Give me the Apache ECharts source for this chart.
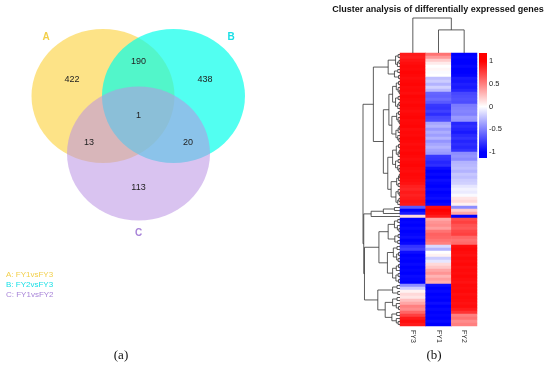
<!DOCTYPE html>
<html><head><meta charset="utf-8">
<script src="https://cdn.jsdelivr.net/npm/echarts@6/dist/echarts.min.js"></script>
<style>html,body{margin:0;padding:0;background:#fff}#c{width:550px;height:368px}</style>
</head><body><div id="c"></div>
<script>
// ---------------- DATA ----------------
const vennSets = ['A', 'B', 'C'];
const vennSetNames = ['FY1vsFY3', 'FY2vsFY3', 'FY1vsFY2'];
const vennRegions = ['A', 'AB', 'B', 'ABC', 'AC', 'BC', 'C'];
const vennCounts = [422, 190, 438, 1, 13, 20, 113];

const heatCols = ['FY3', 'FY1', 'FY2'];
// 91 gene rows, top to bottom (scaled expression)
const fy3 = [
  0.9, 0.88, 0.92, 0.95, 0.97, 0.96, 0.98, 0.97, 0.95, 0.97,
  0.98, 0.96, 0.97, 0.95, 0.98, 0.97, 0.96, 0.98, 0.97, 0.95,
  0.97, 0.98, 0.96, 0.97, 0.98, 0.95, 0.97, 0.96, 0.98, 0.97,
  0.95, 0.97, 0.96, 0.98, 0.97, 0.95, 0.97, 0.98, 0.96, 0.95,
  0.97, 0.96, 0.95, 0.93, 0.88, 0.85, 0.9, 0.87, 0.9, 0.92,
  0.9, -0.65, -1, -0.9, 0.15, -1, -0.98, -1, -0.97, -1,
  -0.98, -0.95, -1, -0.97, -0.8, -0.75, -0.95, -1, -0.98, -1,
  -0.97, -1, -0.98, -1, -0.96, -0.98, -1, -0.45, -0.2, 0.05,
  0.15, 0.1, 0.25, 0.35, 0.5, 0.45, 0.6, 0.75, 0.9, 0.95,
  0.9
];
const fy1 = [
  0.55, 0.4, 0.2, 0.08, 0.0, 0.03, -0.02, 0.0, -0.25, -0.2,
  -0.3, -0.18, -0.28, -0.6, -0.62, -0.58, -0.65, -0.78, -0.8, -0.75,
  -0.82, -0.72, -0.7, -0.35, -0.3, -0.4, -0.32, -0.38, -0.3, -0.42,
  -0.35, -0.3, -0.36, -0.4, -0.78, -0.8, -0.85, -0.82, -0.95, -1,
  -0.97, -1, -0.95, -0.98, -1, -0.96, -1, -0.98, -0.95, -1,
  -0.97, 0.95, 1, 0.97, 0.9, 0.35, 0.42, 0.45, 0.38, 0.55,
  0.62, 0.6, 0.55, 0.5, -0.15, -0.3, 0.0, 0.05, -0.2, -0.1,
  0.15, 0.22, 0.35, 0.42, 0.3, 0.38, 0.32, -0.95, -1, -0.97,
  -1, -0.98, -1, -0.95, -1, -0.97, -1, -0.98, -1, -0.96,
  -1
];
const fy2 = [
  -1, -0.98, -1, -1, -0.97, -1, -1, -0.98, -0.9, -0.92,
  -0.88, -0.9, -0.85, -0.72, -0.7, -0.68, -0.7, -0.52, -0.5, -0.48,
  -0.5, -0.4, -0.42, -0.85, -0.82, -0.86, -0.9, -0.84, -0.8, -0.86,
  -0.82, -0.85, -0.8, -0.45, -0.42, -0.46, -0.3, -0.28, -0.25, -0.3,
  -0.22, -0.25, -0.2, -0.18, -0.1, -0.05, -0.08, -0.02, 0.1, 0.15,
  0.05, -0.45, 0.2, 0.35, -1, 0.7, 0.75, 0.68, 0.65, 0.72,
  0.75, 0.6, 0.55, 0.58, 0.95, 0.97, 0.95, 0.93, 0.96, 0.95,
  0.97, 0.94, 0.96, 0.95, 0.97, 0.95, 0.93, 0.96, 0.95, 0.97,
  0.94, 0.96, 0.95, 0.93, 0.95, 0.9, 0.8, 0.5, 0.55, 0.45,
  0.5
];
// dendrograms: [height, left, right], leaves are indices
const colTree = [1.0, 0, [0.66, 1, 2]];
const rowTree = [1.0,
  [0.72,
    [0.32, [0.12, [0.05, 0, 1], [0.07, [0.03, 2, 3], 4]], [0.15, [0.06, 5, 6], [0.04, 7, 8]]],
    [0.45,
      [0.3,
        [0.2, [0.1, [0.04, 9, 10], [0.05, 11, [0.02, 12, 13]]], [0.12, [0.05, 14, 15], [0.06, [0.03, 16, 17], 18]]],
        [0.22, [0.09, [0.04, 19, 20], [0.05, 21, [0.02, 22, 23]]], [0.11, [0.05, [0.02, 24, 25], 26], [0.06, 27, [0.03, 28, 29]]]]],
      [0.33,
        [0.2, [0.1, [0.04, 30, 31], [0.05, [0.02, 32, 33], 34]], [0.12, [0.05, 35, 36], [0.06, 37, [0.03, 38, 39]]]],
        [0.24, [0.09, [0.04, [0.02, 40, 41], 42], [0.05, 43, 44]], [0.11, [0.05, 45, [0.02, 46, 47]], [0.06, [0.03, 48, 49], 50]]]]]],
  [0.98,
    [0.78, [0.45, [0.15, 51, 52], 53], 54],
    [0.96,
      [0.57,
        [0.32, [0.15, [0.06, 55, 56], [0.07, 57, [0.03, 58, 59]]], [0.14, [0.05, 60, 61], [0.06, 62, 63]]],
        [0.34, [0.18, [0.08, 64, 65], [0.09, [0.04, 66, 67], [0.05, 68, 69]]], [0.2, [0.1, [0.04, 70, 71], 72], [0.11, [0.05, 73, 74], [0.04, 75, 76]]]]],
      [0.6,
        [0.2, [0.08, 77, 78], [0.06, 79, 80]],
        [0.4, [0.2, [0.08, 81, 82], [0.1, 83, [0.04, 84, 85]]], [0.22, [0.09, 86, 87], [0.1, 88, [0.05, 89, 90]]]]]]]
];
const colorbarTicks = [-1, -0.5, 0, 0.5, 1];
const colorbarRange = [-1.13, 1.18];

// ---------------- LAYOUT / STYLE ----------------
const vennColors = ['rgba(251,208,55,0.6)', 'rgba(0,255,235,0.68)', 'rgba(185,145,228,0.55)'];
const vennTextColors = ['#f2cf4a', '#19dfe6', '#a884d8'];
const vennCircleLayout = [[103, 96], [173.5, 96], [138.5, 153.5]];
const vennRadius = [71.5, 67];
const vennRegionLayout = [[72, 80], [138.5, 62], [205, 80], [138.5, 116], [89, 143], [188, 143], [138.5, 188]];
const vennSetLabelLayout = [[46, 37], [231, 37], [138.5, 233]];

const nRows = fy3.length;
const rowIds = fy3.map((_, i) => String(i));
const heatData = [];
[fy3, fy1, fy2].forEach((col, c) => col.forEach((v, r) => heatData.push([c, r, v])));

function treeLinks(node, out) {
  if (typeof node === 'number') return { h: 0, p: node };
  const a = treeLinks(node[1], out), b = treeLinks(node[2], out);
  out.push([node[0], a.p, a.h, b.p, b.h]);
  return { h: node[0], p: (a.p + b.p) / 2 };
}
const rowLinks = []; treeLinks(rowTree, rowLinks);
const colLinks = []; treeLinks(colTree, colLinks);

const lineStyle = { stroke: '#333', lineWidth: 0.8, fill: null };
const chart = echarts.init(document.getElementById('c'), null, { renderer: 'canvas' });

const graphics = [];
vennSets.forEach((s, i) => {
  graphics.push({ type: 'text', left: 6, top: 271 + i * 9.8,
    style: { text: s + ': ' + vennSetNames[i], fill: vennTextColors[i], font: '8px "Liberation Sans", Arial, sans-serif' } });
});
graphics.push({ type: 'text', x: 121, y: 356, style: { text: '(a)', fill: '#111', font: '13px "Liberation Serif", "Times New Roman", serif', align: 'center', verticalAlign: 'middle' } });
graphics.push({ type: 'text', x: 434, y: 356, style: { text: '(b)', fill: '#111', font: '13px "Liberation Serif", "Times New Roman", serif', align: 'center', verticalAlign: 'middle' } });
graphics.push({ type: 'text', x: 438, y: 10, style: { text: 'Cluster analysis of differentially expressed genes', fill: '#111', font: 'bold 9px "Liberation Sans", Arial, sans-serif', align: 'center', verticalAlign: 'middle' } });

const hidden = { show: false };
const option = {
  animation: false,
  backgroundColor: '#fff',
  graphic: graphics,
  grid: [
    { left: 0, top: 0, width: 275, height: 275 },
    { left: 400, top: 53, width: 77, height: 273 },
    { left: 363, top: 53, width: 37, height: 273 },
    { left: 400, top: 18, width: 77, height: 35 },
    { left: 479, top: 53, width: 8, height: 105 }
  ],
  xAxis: [
    { gridIndex: 0, type: 'value', min: 0, max: 275, ...hidden },
    { gridIndex: 1, type: 'category', data: heatCols, position: 'bottom',
      axisLine: { show: false }, axisTick: { show: false },
      axisLabel: { rotate: -90, fontSize: 7, color: '#333', margin: 4, fontFamily: 'Liberation Sans, Arial, sans-serif' } },
    { gridIndex: 2, type: 'value', min: 0, max: 1, inverse: true, ...hidden },
    { gridIndex: 3, type: 'value', min: -0.5, max: 2.5, ...hidden },
    { gridIndex: 4, type: 'value', min: 0, max: 1, ...hidden }
  ],
  yAxis: [
    { gridIndex: 0, type: 'value', min: 0, max: 275, inverse: true, ...hidden },
    { gridIndex: 1, type: 'category', data: rowIds, inverse: true, ...hidden },
    { gridIndex: 2, type: 'value', min: -0.5, max: nRows - 0.5, inverse: true, ...hidden },
    { gridIndex: 3, type: 'value', min: 0, max: 1, ...hidden },
    { gridIndex: 4, type: 'value', min: colorbarRange[0], max: colorbarRange[1], position: 'right',
      axisLine: { show: false }, axisTick: { show: false }, splitLine: { show: false },
      axisLabel: { customValues: colorbarTicks, fontSize: 7.5, color: '#222', margin: 2, fontFamily: 'Liberation Sans, Arial, sans-serif' } }
  ],
  visualMap: {
    show: false, type: 'continuous', min: -1, max: 1, seriesIndex: 2,
    inRange: { color: ['#0000FF', '#FFFFFF', '#FF0000'] }
  },
  series: [
    { // venn circles
      type: 'custom', xAxisIndex: 0, yAxisIndex: 0, silent: true, clip: false,
      data: vennSets.map((s, i) => [vennCircleLayout[i][0], vennCircleLayout[i][1], i]),
      renderItem(params, api) {
        const c = api.coord([api.value(0), api.value(1)]);
        const sz = api.size([vennRadius[0], vennRadius[1]]);
        const i = api.value(2);
        return { type: 'circle', x: c[0], y: c[1], scaleY: sz[1] / sz[0],
          shape: { cx: 0, cy: 0, r: sz[0] }, style: { fill: vennColors[i] } };
      }
    },
    { // venn counts and set labels
      type: 'custom', xAxisIndex: 0, yAxisIndex: 0, silent: true, clip: false,
      data: vennCounts.map((v, i) => [vennRegionLayout[i][0], vennRegionLayout[i][1], v]),
      renderItem(params, api) {
        const c = api.coord([api.value(0), api.value(1)]);
        const children = [{ type: 'text', x: c[0], y: c[1], style: { text: String(api.value(2)), fill: '#222',
          font: '9px "Liberation Sans", Arial, sans-serif', align: 'center', verticalAlign: 'middle' } }];
        if (params.dataIndex === 0) {
          vennSets.forEach((s, k) => {
            const p = api.coord(vennSetLabelLayout[k]);
            children.push({ type: 'text', x: p[0], y: p[1], style: { text: s, fill: vennTextColors[k],
              font: 'bold 10px "Liberation Sans", Arial, sans-serif', align: 'center', verticalAlign: 'middle' } });
          });
        }
        return { type: 'group', children };
      }
    },
    { // heatmap
      type: 'heatmap', xAxisIndex: 1, yAxisIndex: 1, data: heatData, silent: true,
      itemStyle: { borderWidth: 0 }, emphasis: { disabled: true }, progressive: 0
    },
    { // row dendrogram
      type: 'custom', xAxisIndex: 2, yAxisIndex: 2, silent: true, clip: false, data: rowLinks,
      renderItem(params, api) {
        const h = api.value(0), y1 = api.value(1), h1 = api.value(2), y2 = api.value(3), h2 = api.value(4);
        const pts = [api.coord([h1, y1]), api.coord([h, y1]), api.coord([h, y2]), api.coord([h2, y2])];
        return { type: 'polyline', shape: { points: pts }, style: lineStyle };
      }
    },
    { // column dendrogram
      type: 'custom', xAxisIndex: 3, yAxisIndex: 3, silent: true, clip: false, data: colLinks,
      renderItem(params, api) {
        const h = api.value(0), x1 = api.value(1), h1 = api.value(2), x2 = api.value(3), h2 = api.value(4);
        const pts = [api.coord([x1, h1]), api.coord([x1, h]), api.coord([x2, h]), api.coord([x2, h2])];
        return { type: 'polyline', shape: { points: pts }, style: lineStyle };
      }
    },
    { // colour bar
      type: 'custom', xAxisIndex: 4, yAxisIndex: 4, silent: true, clip: false,
      data: [[colorbarRange[0], colorbarRange[1]]],
      renderItem(params, api) {
        const lo = api.value(0), hi = api.value(1);
        const p0 = api.coord([0, hi]), p1 = api.coord([1, lo]);
        const off = v => (hi - v) / (hi - lo);
        return { type: 'rect', shape: { x: p0[0], y: p0[1], width: p1[0] - p0[0], height: p1[1] - p0[1] },
          style: { fill: { type: 'linear', x: 0, y: 0, x2: 0, y2: 1, colorStops: [
            { offset: 0, color: '#FF0000' }, { offset: off(1), color: '#FF0000' },
            { offset: off(0), color: '#FFFFFF' },
            { offset: off(-1), color: '#0000FF' }, { offset: 1, color: '#0000FF' }] } } };
      }
    }
  ]
};
chart.setOption(option);
</script>
</body></html>
